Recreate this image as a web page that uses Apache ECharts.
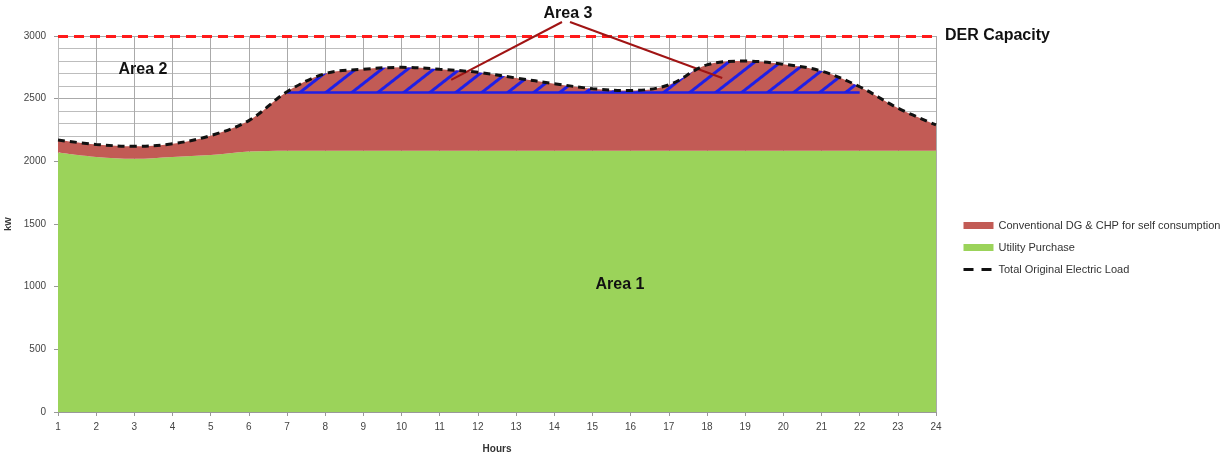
<!DOCTYPE html>
<html>
<head>
<meta charset="utf-8">
<script src="https://cdn.jsdelivr.net/npm/echarts@6/dist/echarts.min.js"></script>
<style>html,body{margin:0;padding:0;background:#fff}#c{width:1225px;height:456px}</style>
</head>
<body>
<div id="c"></div>
<script>
// ---- data ----
var hours = ['1','2','3','4','5','6','7','8','9','10','11','12','13','14','15','16','17','18','19','20','21','22','23','24'];
var totalLoad = [2170,2135,2120,2140,2205,2325,2555,2700,2735,2750,2735,2710,2665,2620,2580,2565,2610,2770,2800,2775,2720,2595,2425,2290];
var utilityPurchase = [2070,2035,2020,2035,2050,2078,2085,2085,2085,2085,2085,2085,2085,2085,2085,2085,2085,2085,2085,2085,2085,2085,2085,2085];
var derCapacity = 3000;
var baseline = 2550;          // level above which Area 3 is hatched
var hatchFrom = 7, hatchTo = 22;
var yTicks = [0,500,1000,1500,2000,2500,3000];
var area3Pointers = [[11.3, 2650], [18.4, 2665]];   // where the Area 3 callout lines end (hour, kW)

// derived series
var conventional = totalLoad.map(function(v,i){ return v - utilityPurchase[i]; });
var baseLine = hours.map(function(h){ h=+h; return (h>=hatchFrom && h<=hatchTo) ? baseline : '-'; });
var excess = hours.map(function(h,i){ h=+h; return (h>=hatchFrom && h<=hatchTo) ? Math.max(totalLoad[i]-baseline,0) : '-'; });

var FONT = 'Liberation Sans';
var chart = echarts.init(document.getElementById('c'), null, {renderer:'canvas'});
chart.setOption({
  animation:false,
  textStyle:{fontFamily:FONT},
  grid:{left:58, right:289, top:36, bottom:44, containLabel:false, outerBoundsMode:'none'},
  legend:{
    orient:'vertical', left:957, top:215, itemWidth:30, itemHeight:7, itemGap:11,
    textStyle:{fontSize:11, color:'#333', fontFamily:FONT},
    data:[
      {name:'Conventional DG & CHP for self consumption', icon:'rect'},
      {name:'Utility Purchase', icon:'rect'},
      {name:'Total Original Electric Load', itemStyle:{opacity:0}, lineStyle:{type:[10,8], width:3, color:'#111'}}
    ]
  },
  xAxis:[{
    type:'category', boundaryGap:false, data:hours,
    name:'Hours', nameLocation:'middle', nameGap:32,
    nameTextStyle:{fontSize:10, fontWeight:'bold', color:'#333'},
    axisLine:{lineStyle:{color:'#999'}},
    axisTick:{show:true, length:4, interval:0, lineStyle:{color:'#999'}},
    axisLabel:{fontSize:10, color:'#444', margin:10, interval:0},
    splitLine:{show:true, interval:0, lineStyle:{color:'#aaa', width:1}}
  },{
    type:'value', min:1, max:24, show:false, splitLine:{show:false}
  }],
  yAxis:{
    type:'value', min:0, max:3000, interval:500,
    name:'kW', nameLocation:'middle', nameGap:42, nameRotate:90,
    nameTextStyle:{fontSize:9, fontWeight:'bold', color:'#333'},
    axisLine:{show:true, lineStyle:{color:'#bbb'}},
    axisTick:{show:true, length:4, lineStyle:{color:'#999'}},
    axisLabel:{fontSize:10, color:'#444', margin:12,
      formatter:function(v){ return yTicks.indexOf(v)>=0 ? String(v) : ''; }},
    splitLine:{show:true, lineStyle:{color:'#aaa', width:1}},
    minorTick:{show:false, splitNumber:5},
    minorSplitLine:{show:true, lineStyle:{color:'#bdbdbd', width:1}}
  },
  series:[
    {
      name:'Utility Purchase', type:'line', stack:'load', smooth:0.35, symbol:'none',
      data:utilityPurchase,
      lineStyle:{width:0}, itemStyle:{color:'#9bd35a'},
      areaStyle:{color:'#9bd35a', opacity:1}, z:2
    },
    {
      name:'Conventional DG & CHP for self consumption', type:'line', stack:'load', smooth:0.35, symbol:'none',
      data:conventional,
      lineStyle:{width:0}, itemStyle:{color:'#c25b55'},
      areaStyle:{color:'#c25b55', opacity:1}, z:2
    },
    {
      name:'base', type:'line', stack:'hatch', smooth:0.35, symbol:'none',
      data:baseLine,
      lineStyle:{color:'#1f1fe6', width:2.5}, itemStyle:{color:'#1f1fe6'}, z:3
    },
    {
      name:'Area 3 hatch', type:'line', stack:'hatch', smooth:0.35, symbol:'none',
      data:excess,
      lineStyle:{width:0},
      itemStyle:{color:'rgba(0,0,0,0)', decal:{
        symbol:'rect', symbolSize:1, dashArrayX:[1,0], dashArrayY:[2.2,12.5],
        rotation:-Math.PI*38/180, color:'#1f1fe6'
      }},
      areaStyle:{color:'rgba(0,0,0,0)', opacity:1}, z:3
    },
    {
      name:'Total Original Electric Load', type:'line', smooth:0.35, symbol:'none',
      data:totalLoad,
      lineStyle:{color:'#111', width:3, type:[7,5]}, itemStyle:{color:'#111'}, z:5
    },
    {
      name:'annotations', type:'line', xAxisIndex:1, data:[], symbol:'none', z:6,
      markLine:{
        silent:true, symbol:['none','none'], animation:false,
        data:[
          [{coord:[1,derCapacity], lineStyle:{color:'#ff1a1a', width:3, type:[10,6]},
            label:{show:true, position:'end', formatter:'DER Capacity', fontSize:16, fontWeight:'bold', color:'#111', distance:9}},
           {coord:[24,derCapacity]}],
          [{x:562, y:22, lineStyle:{color:'#a01414', width:2, type:'solid'}, label:{show:false}},
           {coord:area3Pointers[0]}],
          [{x:570, y:22, lineStyle:{color:'#a01414', width:2, type:'solid'}, label:{show:false}},
           {coord:area3Pointers[1]}]
        ]
      }
    }
  ],
  graphic:[
    {type:'text', x:620, y:285, z:100, style:{text:'Area 1', font:'bold 16px '+FONT, fill:'#111', textAlign:'center', textVerticalAlign:'middle'}},
    {type:'text', x:143, y:70, z:100, style:{text:'Area 2', font:'bold 16px '+FONT, fill:'#111', textAlign:'center', textVerticalAlign:'middle'}},
    {type:'text', x:568, y:14, z:100, style:{text:'Area 3', font:'bold 16px '+FONT, fill:'#111', textAlign:'center', textVerticalAlign:'middle'}}
  ]
});
</script>
</body>
</html>
